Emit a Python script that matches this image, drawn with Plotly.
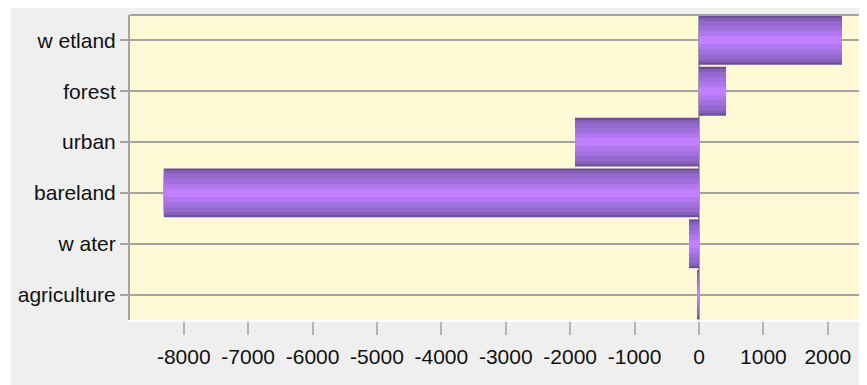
import plotly.graph_objects as go

categories = ["w etland", "forest", "urban", "bareland", "w ater", "agriculture"]
values = [2220, 420, -1925, -8310, -155, -20]
tick_vals = [-8000, -7000, -6000, -5000, -4000, -3000, -2000, -1000, 0, 1000, 2000]
tick_text = ["-8000", "-7000", "-6000", "-5000", "-4000", "-3000", "-2000", "-1000", "0", "1000", "2000"]

# layered bars to imitate the vertical gradient (dark edges, light centre)
layers = [
    (0.96, "#6d4d99"),
    (0.88, "#8460b8"),
    (0.76, "#9468cc"),
    (0.56, "#a270de"),
    (0.36, "#b078ef"),
    (0.16, "#c080ff"),
]

fig = go.Figure()
for w, c in layers:
    fig.add_trace(go.Bar(
        y=categories, x=values, orientation="h", width=w,
        marker=dict(color=c, line=dict(width=0)),
        showlegend=False, hoverinfo="x+y",
    ))

FONT = "Liberation Sans, Arial, sans-serif"
GRID = "#a3a3a3"

fig.update_layout(
    width=859, height=377,
    margin=dict(l=122, r=0, t=7, b=65),
    barmode="overlay",
    paper_bgcolor="#efefef",
    plot_bgcolor="#fff9d6",
    font=dict(family=FONT, size=21, color="#111111"),
    xaxis=dict(
        range=[-8835, 2609],
        tickmode="array", tickvals=tick_vals, ticktext=tick_text,
        tickangle=0, automargin=False, ticklabelstandoff=4,
        showgrid=False,
        zeroline=True, zerolinecolor=GRID, zerolinewidth=2,
        showline=True, linecolor="#ffffff", linewidth=2,
        ticks="outside", ticklen=13, tickwidth=2, tickcolor="#b5b5b5",
        tickfont=dict(family=FONT, size=21, color="#111111"),
        fixedrange=True,
    ),
    yaxis=dict(
        autorange="reversed", automargin=False,
        showgrid=True, gridcolor=GRID, gridwidth=2,
        showline=True, linecolor=GRID, linewidth=2,
        ticks="outside", ticklen=8, tickwidth=2, tickcolor=GRID,
        tickfont=dict(family=FONT, size=21, color="#111111"),
        fixedrange=True,
    ),
    shapes=[
        # thin white strip at the left of the page
        dict(type="rect", xref="paper", yref="paper", x0=-0.17, x1=-0.1615,
             y0=-0.3, y1=1.1, fillcolor="#ffffff", line=dict(width=0), layer="below"),
        # top border of plot area
        dict(type="line", xref="paper", yref="paper", x0=0, x1=1, y0=1.0, y1=1.0,
             line=dict(color=GRID, width=2)),
    ],
)

fig.write_html("out.html")
